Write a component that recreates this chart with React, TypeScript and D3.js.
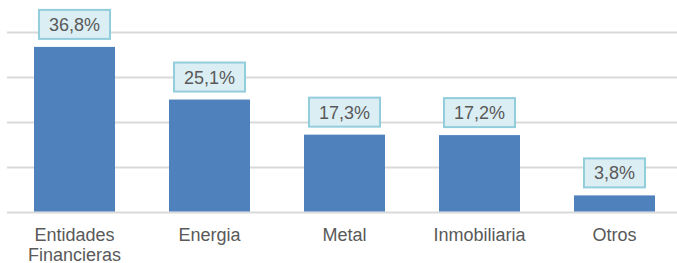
import React, { useRef, useEffect } from 'react';
import * as d3 from 'd3';

const categories = ['Entidades Financieras', 'Energia', 'Metal', 'Inmobiliaria', 'Otros'];
const values = [36.8, 25.1, 17.3, 17.2, 3.8];
const valueLabels = ['36,8%', '25,1%', '17,3%', '17,2%', '3,8%'];
const gridTicks = [0, 10, 20, 30, 40];

const W = 677;
const H = 263;

const App = () => {
  const svgRef = useRef<SVGSVGElement>(null);

  useEffect(() => {
    const svg = d3.select(svgRef.current);
    svg.selectAll('*').remove();

    const font = 'Liberation Sans, Arial, sans-serif';
    const x = d3.scaleBand().domain(categories).range([7, 682]).paddingInner(0.4).paddingOuter(0.2);
    const y = d3.scaleLinear().domain([0, 40]).range([212.5, 32.5]);

    svg.append('g')
      .selectAll('line')
      .data(gridTicks)
      .enter()
      .append('line')
      .attr('x1', 7)
      .attr('x2', W)
      .attr('y1', d => y(d))
      .attr('y2', d => y(d))
      .attr('stroke', '#d9d9d9')
      .attr('stroke-width', 2);

    svg.append('g')
      .selectAll('rect')
      .data(values)
      .enter()
      .append('rect')
      .attr('x', (d, i) => x(categories[i])!)
      .attr('width', x.bandwidth())
      .attr('y', d => y(d))
      .attr('height', d => y(0) - y(d) - 1)
      .attr('fill', '#4f81bd');

    // value labels in boxes
    const lab = svg.append('g');
    values.forEach((v, i) => {
      const cx = x(categories[i])! + x.bandwidth() / 2;
      const bottom = y(v) - 8;
      const g = lab.append('g');
      const rect = g.append('rect');
      const t = g.append('text')
        .attr('x', cx)
        .attr('y', bottom - 8)
        .attr('text-anchor', 'middle')
        .attr('font-family', font)
        .attr('font-size', 18)
        .attr('fill', '#595959')
        .text(valueLabels[i]);
      const tw = (t.node() as SVGTextElement).getComputedTextLength();
      const bw = tw + 20;
      rect.attr('x', cx - bw / 2)
        .attr('y', bottom - 29)
        .attr('width', bw)
        .attr('height', 29)
        .attr('fill', '#dbeef4')
        .attr('stroke', '#92cddc')
        .attr('stroke-width', 2);
    });

    // category labels
    const cat = svg.append('g');
    categories.forEach(c => {
      const cx = x(c)! + x.bandwidth() / 2;
      const words = c === 'Entidades Financieras' ? ['Entidades', 'Financieras'] : [c];
      words.forEach((w, j) => {
        cat.append('text')
          .attr('x', cx)
          .attr('y', 241 + j * 20)
          .attr('text-anchor', 'middle')
          .attr('font-family', font)
          .attr('font-size', 18)
          .attr('fill', '#595959')
          .text(w);
      });
    });
  }, []);

  return (
    <svg
      ref={svgRef}
      width={W}
      height={H}
      style={{ position: 'absolute', left: 0, top: 0, background: '#fff' }}
    />
  );
};

export default App;
